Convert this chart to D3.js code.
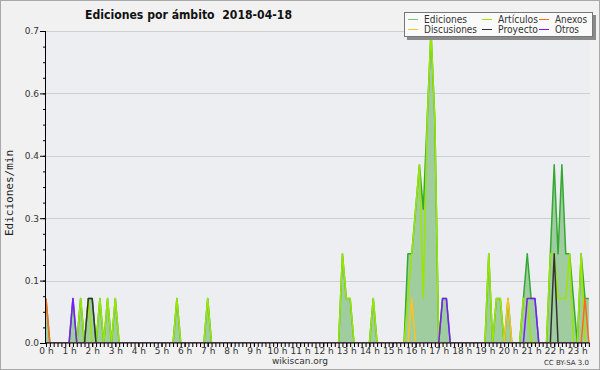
<!DOCTYPE html>
<html>
<head>
<meta charset="utf-8">
<script src="https://cdn.jsdelivr.net/npm/d3@7"></script>
<style>
    body { margin: 0; background: #fff; }
    svg { display: block; font-family: "DejaVu Sans", sans-serif; }
</style>
</head>
<body>
<svg id="chart" width="600" height="370"></svg>
<script>
const title = "Ediciones por ámbito  2018-04-18";
const hours = [0, 1, 2, 3, 4, 5, 6, 7, 8, 9, 10, 11, 12, 13, 14, 15, 16, 17, 18, 19, 20, 21, 22, 23];
const yTicks = [0, 0.14, 0.28, 0.42, 0.56, 0.7];
const seriesNames = ["Ediciones", "Artículos", "Anexos", "Discusiones", "Proyecto", "Otros"];

// edits per minute, 10-minute slots (slots not listed are 0)
const ediciones = [
    ["00:00", 0.1], ["01:10", 0.1], ["01:30", 0.1], ["01:50", 0.1], ["02:00", 0.1], ["02:20", 0.1],
    ["02:40", 0.1], ["03:00", 0.1], ["05:40", 0.1], ["07:00", 0.1], ["12:50", 0.2], ["13:00", 0.1],
    ["13:10", 0.1], ["14:10", 0.1], ["15:40", 0.2], ["15:50", 0.2], ["16:00", 0.3], ["16:10", 0.4],
    ["16:20", 0.3], ["16:30", 0.5], ["16:40", 0.7], ["16:50", 0.5], ["17:10", 0.1], ["17:20", 0.1],
    ["19:10", 0.2], ["19:30", 0.1], ["19:40", 0.1], ["20:00", 0.1], ["20:40", 0.1], ["20:50", 0.2],
    ["21:00", 0.1], ["21:10", 0.1], ["21:50", 0.2], ["22:00", 0.4], ["22:10", 0.2], ["22:20", 0.4],
    ["22:30", 0.2], ["22:40", 0.2], ["22:50", 0.1], ["23:10", 0.2], ["23:20", 0.1], ["23:30", 0.1]
];
const articulos = [
    ["01:30", 0.1], ["01:50", 0.1], ["02:20", 0.1], ["02:40", 0.1], ["03:00", 0.1], ["05:40", 0.1],
    ["07:00", 0.1], ["12:50", 0.2], ["13:00", 0.1], ["13:10", 0.1], ["14:10", 0.1], ["15:40", 0.1],
    ["15:50", 0.2], ["16:00", 0.3], ["16:10", 0.4], ["16:20", 0.1], ["16:30", 0.5], ["16:40", 0.7],
    ["16:50", 0.5], ["19:10", 0.2], ["19:30", 0.1], ["19:40", 0.1], ["20:40", 0.1], ["20:50", 0.1],
    ["21:50", 0.2], ["22:00", 0.2], ["22:10", 0.1], ["22:20", 0.1], ["22:30", 0.1], ["22:40", 0.2],
    ["23:10", 0.2]
];
const anexos = [["00:00", 0.1], ["23:20", 0.1]];
const discusiones = [["15:50", 0.1], ["20:00", 0.1]];
const proyecto = [["01:50", 0.1], ["02:00", 0.1], ["22:00", 0.2]];
const otros = [["01:10", 0.1], ["17:10", 0.1], ["17:20", 0.1], ["20:50", 0.1], ["21:00", 0.1], ["21:10", 0.1]];

const lastSlot = "23:30";

const colors = {
    "Ediciones": "#33a833",
    "Artículos": "#9be600",
    "Anexos": "#ff6a1a",
    "Discusiones": "#ffc41a",
    "Proyecto": "#333333",
    "Otros": "#7a1aff"
};

const toHours = s => +s.slice(0, 2) + +s.slice(3) / 60;

// full series over every 10-minute slot of the day up to the last one
const slots = d3.range(0, Math.round(toHours(lastSlot) * 6) + 1).map(i => i / 6);
const expand = pairs => {
    const m = new Map(pairs.map(([t, v]) => [Math.round(toHours(t) * 6), v]));
    return slots.map((h, i) => ({ h: h, v: m.get(i) || 0 }));
};
const seriesData = {
    "Ediciones": expand(ediciones),
    "Artículos": expand(articulos),
    "Anexos": expand(anexos),
    "Discusiones": expand(discusiones),
    "Proyecto": expand(proyecto),
    "Otros": expand(otros)
};

const svg = d3.select("#chart");
const W = 600, H = 370;
const mLeft = 46, mRight = 590, mTop = 31, mBottom = 343;

svg.append("rect").attr("x", 0.5).attr("y", 0.5).attr("width", W - 1).attr("height", H - 1)
    .attr("fill", "#f1f1f1").attr("stroke", "#a8a8a8");

const x = d3.scaleLinear().domain([0, (mRight - mLeft) / 23.1]).range([mLeft, mRight]);
const y = d3.scaleLinear().domain([0, 0.7]).range([mBottom, mTop]);

svg.append("rect").attr("x", mLeft).attr("y", mTop).attr("width", mRight - mLeft).attr("height", mBottom - mTop)
    .attr("fill", "#eceef1");

// grid
svg.append("g").selectAll("line").data(yTicks.filter(d => d > 0)).join("line")
    .attr("x1", mLeft).attr("x2", mRight)
    .attr("y1", d => Math.round(y(d)) + 0.5).attr("y2", d => Math.round(y(d)) + 0.5)
    .attr("stroke", "#cfcfcf");

svg.append("clipPath").attr("id", "plot").append("rect")
    .attr("x", mLeft).attr("y", mTop - 10).attr("width", mRight - mLeft).attr("height", mBottom - mTop + 9.4);

const plot = svg.append("g").attr("clip-path", "url(#plot)");

const area = d3.area().x(d => x(d.h)).y0(y(0)).y1(d => y(d.v));
const line = d3.line().x(d => x(d.h)).y(d => y(d.v));

plot.append("path").datum(seriesData["Ediciones"])
    .attr("d", area).attr("fill", "#9fcd9f");

seriesNames.forEach(name => {
    plot.append("path").datum(seriesData[name])
        .attr("d", line)
        .attr("fill", "none")
        .attr("stroke", colors[name])
        .attr("stroke-width", 1.5)
        .attr("stroke-linejoin", "round");
});

// x axis
const xMinor = svg.append("g").attr("transform", `translate(0,${mBottom})`)
    .call(d3.axisBottom(x).tickValues(slots).tickSize(4).tickFormat(""));
xMinor.select(".domain").remove();

const xAxis = svg.append("g").attr("transform", `translate(0,${mBottom})`)
    .call(d3.axisBottom(x).tickValues(hours).tickSize(4).tickFormat(d => d + " h"));
xAxis.select(".domain").attr("d", `M${mLeft},0H${mRight}`).attr("stroke-width", 1.2);
xAxis.selectAll("text").attr("y", 5).attr("font-size", 9).attr("fill", "#333")
    .attr("font-family", "DejaVu Sans");

// y axis
const yMinor = svg.append("g").attr("transform", `translate(${mLeft},0)`)
    .call(d3.axisLeft(y).tickValues(d3.range(0, 0.7001, 0.035)).tickSize(3).tickFormat(""));
yMinor.select(".domain").remove();

const yAxis = svg.append("g").attr("transform", `translate(${mLeft},0)`)
    .call(d3.axisLeft(y).tickValues(yTicks).tickSize(6).tickPadding(1).tickFormat(d3.format(".1f")));
yAxis.select(".domain").attr("d", `M-0.5,${mTop}V${mBottom}`);
yAxis.selectAll("text").attr("font-size", 9).attr("fill", "#333").attr("font-family", "DejaVu Sans");

svg.selectAll(".tick line").attr("stroke", "#000");
svg.selectAll(".domain").attr("stroke", "#000");

// texts
svg.append("text").attr("x", 85).attr("y", 19)
    .attr("font-size", 13).attr("font-weight", "bold").attr("fill", "#111")
    .attr("textLength", 207).attr("lengthAdjust", "spacingAndGlyphs")
    .style("white-space", "pre").text(title);

svg.append("text").attr("transform", "translate(13,193) rotate(-90)")
    .attr("text-anchor", "middle").attr("font-family", "DejaVu Sans Mono")
    .attr("font-size", 11).attr("fill", "#222").text("Ediciones/min");

svg.append("text").attr("x", 300).attr("y", 364).attr("text-anchor", "middle")
    .attr("font-size", 9).attr("fill", "#333").text("wikiscan.org");

svg.append("text").attr("x", 589).attr("y", 365).attr("text-anchor", "end")
    .attr("font-size", 7).attr("fill", "#333").text("CC BY-SA 3.0");

// legend
const legend = svg.append("g");
legend.append("rect").attr("x", 407).attr("y", 15).attr("width", 189).attr("height", 25).attr("fill", "#8a8a8a");
legend.append("rect").attr("x", 404.5).attr("y", 12.5).attr("width", 188).attr("height", 24)
    .attr("fill", "#fafafa").attr("stroke", "#777");

const legendCols = [408, 482, 539];
const legendRows = [19, 29];
const legendOrder = ["Ediciones", "Artículos", "Anexos", "Discusiones", "Proyecto", "Otros"];
const legendWidths = [43, 40, 32, 53, 40, 24];
legendOrder.forEach((name, i) => {
    const cx = legendCols[i % 3], cy = legendRows[Math.floor(i / 3)];
    legend.append("line").attr("x1", cx).attr("x2", cx + 10)
        .attr("y1", cy + 0.5).attr("y2", cy + 0.5)
        .attr("stroke", name === "Ediciones" ? "#7cc47c" : colors[name]).attr("stroke-width", 1);
    legend.append("text").attr("x", cx + 16).attr("y", cy + 4)
        .attr("font-size", 10).attr("fill", "#333")
        .attr("textLength", legendWidths[i]).attr("lengthAdjust", "spacingAndGlyphs")
        .text(name);
});
</script>
</body>
</html>
